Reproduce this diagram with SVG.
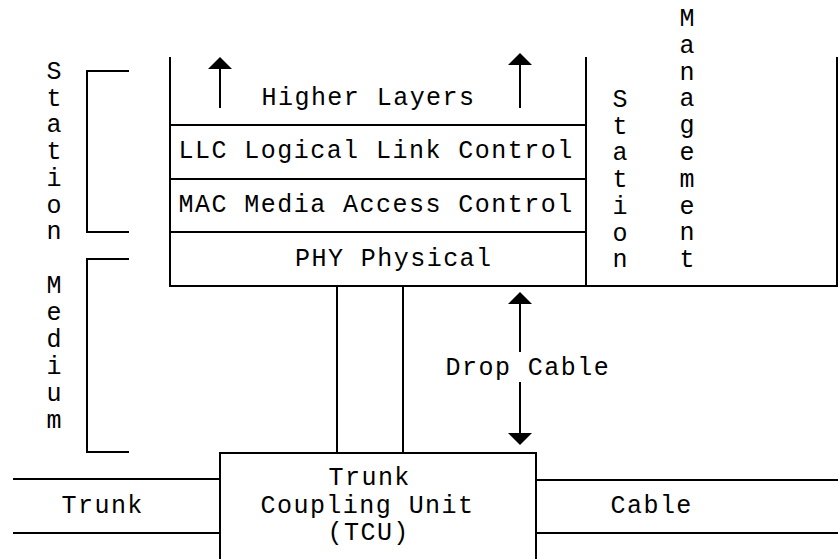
<svg xmlns="http://www.w3.org/2000/svg" width="838" height="559" viewBox="0 0 838 559">
  <style>
    .ln { fill: none; stroke: #000; stroke-width: 2; }
    .tx { font-family: "Liberation Mono", "DejaVu Sans Mono", monospace; font-size: 25px; letter-spacing: 1.46px; fill: #000; }
    .vt { font-family: "Liberation Mono", "DejaVu Sans Mono", monospace; font-size: 25px; fill: #000; text-anchor: middle; }
  </style>
  <defs>
    <marker id="head" viewBox="0 0 12 24" refX="10" refY="12" markerWidth="12" markerHeight="24" markerUnits="userSpaceOnUse" orient="auto">
      <path d="M0,0 L12,12 L0,24 Z" fill="#000"/>
    </marker>
  </defs>
  <rect width="838" height="559" fill="#fff"/>

  <!-- protocol layer stack -->
  <g id="stack">
    <path class="ln" d="M170,57 V286 H586 V57"/>
    <path class="ln" d="M170,125 H586 M170,179 H586 M170,232 H586"/>
    <text class="tx" x="261.5" y="105">Higher Layers</text>
    <text class="tx" x="178.5" y="158">LLC Logical Link Control</text>
    <text class="tx" x="178.5" y="212">MAC Media Access Control</text>
    <text class="tx" x="295" y="266">PHY Physical</text>
  </g>

  <!-- station management column -->
  <g id="station-management">
    <path class="ln" d="M586,286 H837 V57"/>
    <text class="vt">
      <tspan x="620" y="107">S</tspan><tspan x="620" dy="26.7">t</tspan><tspan x="620" dy="26.7">a</tspan><tspan x="620" dy="26.7">t</tspan><tspan x="620" dy="26.7">i</tspan><tspan x="620" dy="26.7">o</tspan><tspan x="620" dy="26.7">n</tspan>
    </text>
    <text class="vt">
      <tspan x="687" y="26">M</tspan><tspan x="687" dy="26.8">a</tspan><tspan x="687" dy="26.8">n</tspan><tspan x="687" dy="26.8">a</tspan><tspan x="687" dy="26.8">g</tspan><tspan x="687" dy="26.8">e</tspan><tspan x="687" dy="26.8">m</tspan><tspan x="687" dy="26.8">e</tspan><tspan x="687" dy="26.8">n</tspan><tspan x="687" dy="26.8">t</tspan>
    </text>
  </g>

  <!-- side brackets -->
  <g id="station-bracket">
    <path class="ln" d="M129,71 H87 V232 H129"/>
    <text class="vt">
      <tspan x="54" y="79">S</tspan><tspan x="54" dy="26.7">t</tspan><tspan x="54" dy="26.7">a</tspan><tspan x="54" dy="26.7">t</tspan><tspan x="54" dy="26.7">i</tspan><tspan x="54" dy="26.7">o</tspan><tspan x="54" dy="26.7">n</tspan>
    </text>
  </g>
  <g id="medium-bracket">
    <path class="ln" d="M129,259 H87 V452 H129"/>
    <text class="vt">
      <tspan x="54" y="293">M</tspan><tspan x="54" dy="27">e</tspan><tspan x="54" dy="27">d</tspan><tspan x="54" dy="27">i</tspan><tspan x="54" dy="27">u</tspan><tspan x="54" dy="27">m</tspan>
    </text>
  </g>

  <!-- trunk coupling unit -->
  <g id="tcu">
    <path class="ln" d="M220,562 V453 H536 V562"/>
    <text class="tx" x="328.5" y="485">Trunk</text>
    <text class="tx" x="260.5" y="513">Coupling Unit</text>
    <text class="tx" x="327.5" y="540">(TCU)</text>
  </g>

  <g id="trunk-label">
    <text class="tx" x="61.5" y="513">Trunk</text>
  </g>
  <g id="cable-label">
    <text class="tx" x="610.5" y="513">Cable</text>
  </g>
  <g id="drop-cable-label">
    <text class="tx" x="445.5" y="375">Drop Cable</text>
  </g>

  <!-- connectors -->
  <g id="connectors">
    <path class="ln" d="M337,286 V453 M403,286 V453"/>
    <path class="ln" d="M13,479 H220 M13,533 H220"/>
    <path class="ln" d="M536,480 H838 M536,533 H838"/>
    <path class="ln" d="M220,108 V59" marker-end="url(#head)"/>
    <path class="ln" d="M520,108 V55" marker-end="url(#head)"/>
    <path class="ln" d="M520,352 V294" marker-end="url(#head)"/>
    <path class="ln" d="M520,382 V443" marker-end="url(#head)"/>
  </g>
</svg>
